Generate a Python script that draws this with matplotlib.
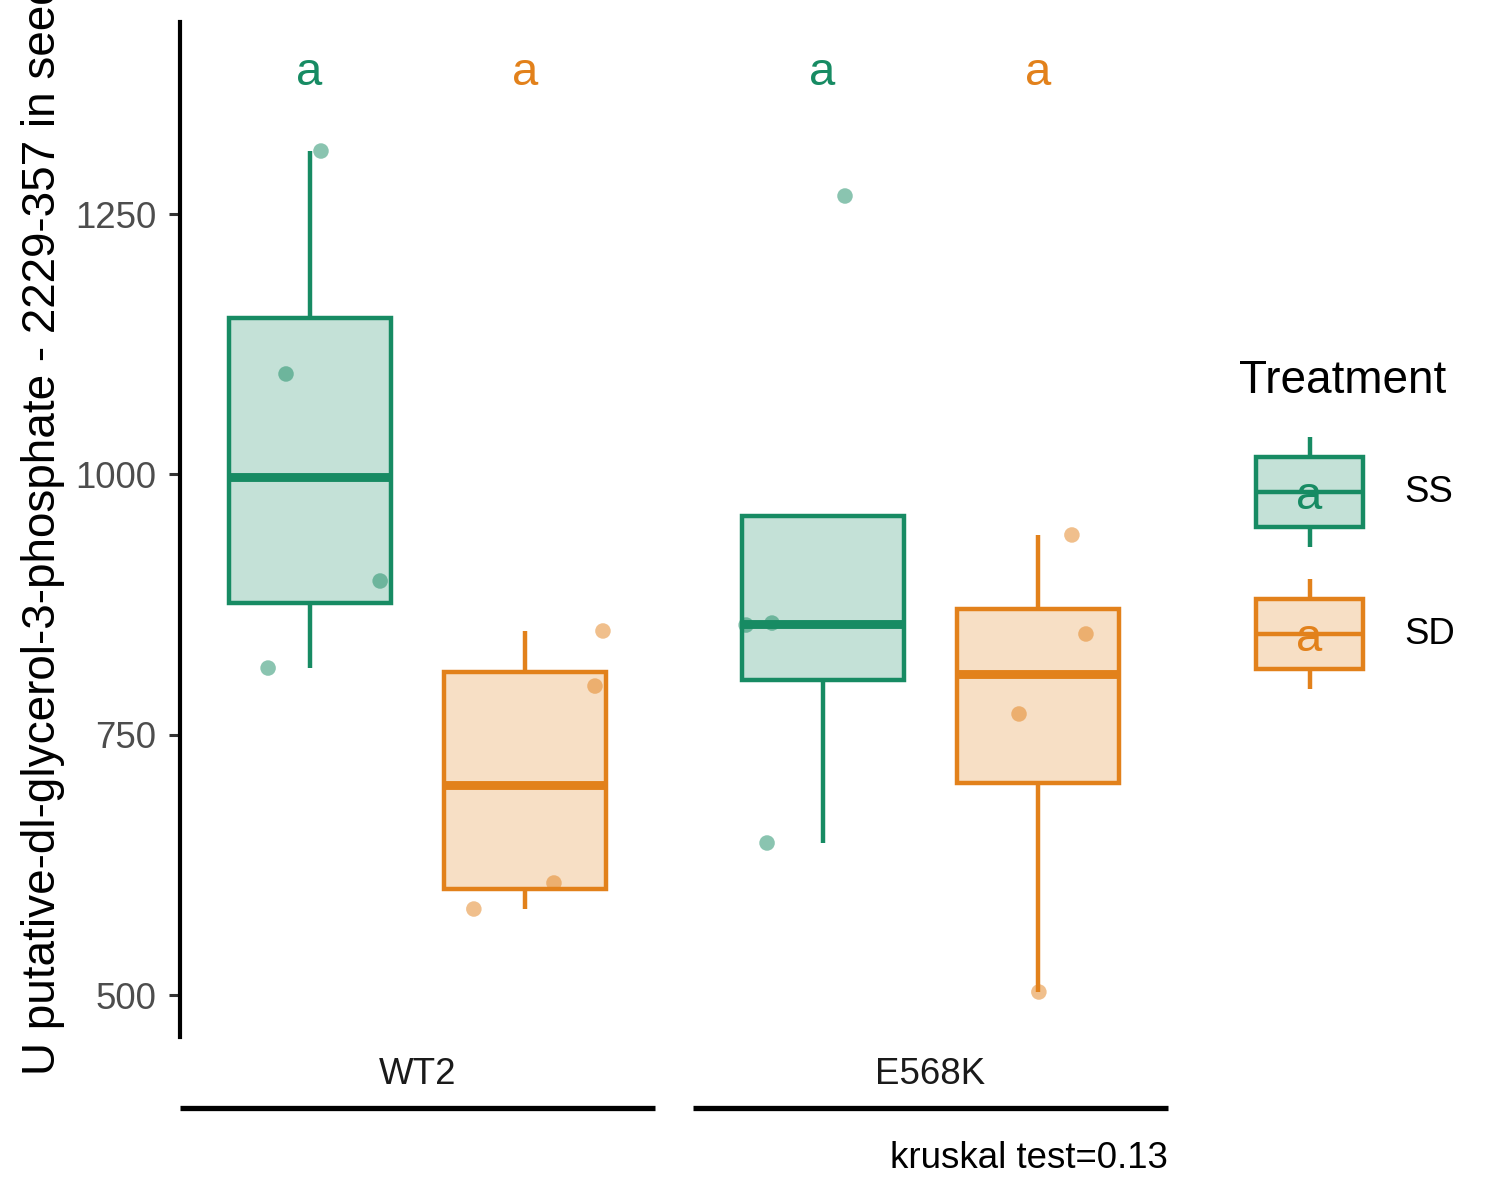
import matplotlib
matplotlib.use("Agg")
import matplotlib.pyplot as plt
from matplotlib.patches import Rectangle
from matplotlib.colors import to_rgba

plt.rcParams['font.family'] = ['Liberation Sans', 'DejaVu Sans']

W, H = 1500, 1200

# ---- data ----
genotypes = ["WT2", "E568K"]
treatments = ["SS", "SD"]

wt2_ss = [1310.5, 1096.4, 897.6, 814.0]
wt2_sd = [849.6, 796.7, 607.6, 582.6]
e568k_ss = [1267.3, 857.2, 855.3, 646.0]
e568k_sd = [941.8, 846.7, 769.9, 502.9]

# horizontal jitter of the points (in x units)
wt2_ss_jit = [0.053, -0.109, 0.327, -0.192]
wt2_sd_jit = [0.359, 0.322, 0.132, -0.239]
e568k_ss_jit = [0.104, -0.234, -0.354, -0.257]
e568k_sd_jit = [0.155, 0.220, -0.090, 0.002]

letters_wt2 = ["a", "a"]
letters_e568k = ["a", "a"]
letter_y = 1374

y_ticks = [500, 750, 1000, 1250]
y_lim = (459.7, 1434.4)
y_label = "U putative-dl-glycerol-3-phosphate - 2229-357 in seeds"
caption = "kruskal test=0.13"
legend_title = "Treatment"

colors = {"SS": "#178B63", "SD": "#E2811B"}

panels = [
    (wt2_ss, wt2_sd, wt2_ss_jit, wt2_sd_jit, letters_wt2),
    (e568k_ss, e568k_sd, e568k_ss_jit, e568k_sd_jit, letters_e568k),
]

LW = 3.2      # box outline / whiskers
MED_LW = 6.4  # median line


def px_axes(fig, x0, y0, x1, y1):
    return fig.add_axes([x0 / W, 1 - y1 / H, (x1 - x0) / W, (y1 - y0) / H])


fig = plt.figure(figsize=(W / 100, H / 100), dpi=100)

panel_px = [(180, 655), (693, 1168)]
top_px, bot_px = 22, 1037
strip_line_px = 1108
strip_text_px = 1075

for i, (gname, (a_ss, a_sd, j_ss, j_sd, letters)) in enumerate(zip(genotypes, panels)):
    x0, x1 = panel_px[i]
    ax = px_axes(fig, x0, top_px, x1, bot_px)
    groups = [a_ss, a_sd]
    jits = [j_ss, j_sd]
    pos = [1, 2]
    bp = ax.boxplot(groups, positions=pos, widths=0.75, patch_artist=True,
                    showfliers=False, showcaps=False, whis=1.5)
    for k, t in enumerate(treatments):
        c = colors[t]
        bp['boxes'][k].set(facecolor=to_rgba(c, 0.25), edgecolor=c, linewidth=LW, zorder=2)
        bp['medians'][k].set(color=c, linewidth=MED_LW, solid_capstyle='butt', zorder=2.5)
        for w in bp['whiskers'][2 * k:2 * k + 2]:
            w.set(color=c, linewidth=LW, zorder=2, solid_capstyle='butt')
        xs = [pos[k] + d for d in jits[k]]
        ax.scatter(xs, groups[k], s=125, color=c, alpha=0.5, edgecolors='none', zorder=3)
        ax.text(pos[k], letter_y, letters[k], color=c, fontsize=34,
                ha='center', va='baseline')

    ax.set_xlim(0.4, 2.6)
    ax.set_ylim(*y_lim)
    ax.set_xticks([])
    for s in ['top', 'right', 'bottom']:
        ax.spines[s].set_visible(False)
    if i == 0:
        ax.spines['left'].set_linewidth(3.0)
        ax.spines['left'].set_color('black')
        ax.set_yticks(y_ticks)
        ax.set_yticklabels([str(v) for v in y_ticks], fontsize=26.4, color='#4D4D4D')
        ax.tick_params(axis='y', length=8, width=2.2, pad=9, color='#333333')
    else:
        ax.spines['left'].set_visible(False)
        ax.set_yticks([])
    ax.set_facecolor('none')

    # strip at the bottom
    hpx = bot_px - top_px
    ax.plot([0, 1], [-(strip_line_px - bot_px) / hpx] * 2, transform=ax.transAxes,
            color='black', linewidth=3.8, clip_on=False, solid_capstyle='butt')
    ax.text(0.5, -(strip_text_px - bot_px) / hpx, gname, transform=ax.transAxes,
            ha='center', va='center', fontsize=26.4, color='#1A1A1A')

# y label, running off the top edge like the reference
fig.text(55 / W, 1 - 1075 / H, y_label, rotation=90, rotation_mode='anchor',
         ha='left', va='baseline', fontsize=33)

# caption
fig.text(1168 / W, 1 - 1168 / H, caption, ha='right', va='baseline', fontsize=26.4)

# legend drawn by hand
lg = fig.add_axes([0, 0, 1, 1])
lg.set_xlim(0, W)
lg.set_ylim(H, 0)
lg.axis('off')
lg.patch.set_alpha(0)
lg.text(1239, 393, legend_title, fontsize=33, ha='left', va='baseline')
key_centers = [492, 634]
for t, cy in zip(treatments, key_centers):
    c = colors[t]
    lg.add_patch(Rectangle((1256, cy - 35), 107, 70, facecolor=to_rgba(c, 0.25),
                           edgecolor=c, linewidth=LW))
    lg.plot([1309.5, 1309.5], [cy - 55, cy - 35], color=c, linewidth=LW, solid_capstyle='butt')
    lg.plot([1309.5, 1309.5], [cy + 35, cy + 55], color=c, linewidth=LW, solid_capstyle='butt')
    lg.plot([1256, 1363], [cy, cy], color=c, linewidth=LW, solid_capstyle='butt')
    lg.text(1309, cy + 17, "a", color=c, fontsize=34, ha='center', va='baseline')
    lg.text(1404, cy, t, fontsize=26.4, ha='left', va='center', color='black')

fig.savefig("out.png", dpi=100)
